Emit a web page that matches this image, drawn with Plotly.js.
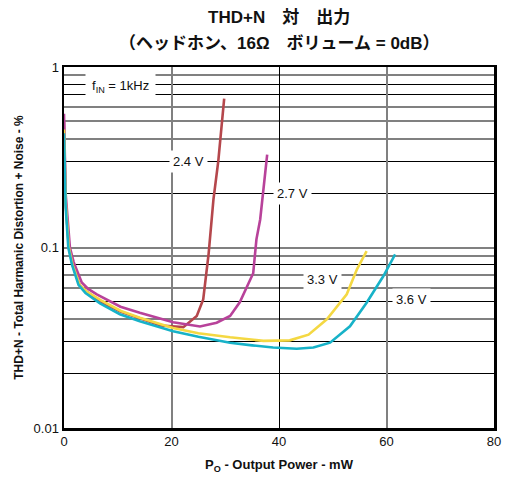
<!DOCTYPE html>
<html><head><meta charset="utf-8">
<script src="https://cdn.plot.ly/plotly-3.0.1.min.js"></script>
<style>html,body{margin:0;padding:0;background:#fff}#c{width:514px;height:477px}</style>
</head><body><div id="c"></div>
<script>
// ---- data ----
const seriesNames = ['2.4 V', '2.7 V', '3.3 V', '3.6 V'];
const x24 = [0, 0.3, 0.9, 1.6, 2.9, 4.2, 6.9, 10.6, 14.1, 18, 22.2, 24.7, 25.9, 26.9, 27.8, 28.7, 29.8];
const y24 = [0.5, 0.18, 0.10, 0.08, 0.062, 0.057, 0.05, 0.044, 0.0405, 0.037, 0.0362, 0.0417, 0.0515, 0.092, 0.184, 0.3, 0.669];
const x27 = [0, 0.3, 1.1, 1.8, 3.3, 4.5, 6.1, 7.9, 10.5, 14.1, 20.3, 25.3, 28.4, 30.9, 32.7, 35.2, 35.8, 36.5, 37.0, 37.8];
const y27 = [0.55, 0.2, 0.10, 0.083, 0.064, 0.059, 0.055, 0.0515, 0.047, 0.0435, 0.0385, 0.0365, 0.0383, 0.0418, 0.0497, 0.072, 0.111, 0.143, 0.2, 0.327];
const x33 = [0, 0.3, 0.9, 1.6, 2.9, 4.2, 6.9, 10.6, 14.1, 20.3, 25, 30.9, 37.1, 42, 45.5, 48.9, 52.6, 54.5, 56.3];
const y33 = [0.45, 0.18, 0.10, 0.08, 0.062, 0.057, 0.051, 0.0445, 0.0408, 0.0358, 0.0335, 0.0318, 0.0304, 0.0306, 0.0329, 0.04, 0.055, 0.0757, 0.0955];
const x36 = [0, 0.3, 0.8, 1.5, 2.7, 4, 6.7, 10.4, 14.1, 20.3, 25, 30.9, 35, 38.9, 43.3, 46.4, 49.5, 53.2, 56.3, 59.4, 61.6];
const y36 = [0.43, 0.17, 0.10, 0.08, 0.062, 0.056, 0.049, 0.0427, 0.039, 0.0344, 0.032, 0.0297, 0.0287, 0.0279, 0.0275, 0.0279, 0.0297, 0.0366, 0.0494, 0.0693, 0.0915];

// label positions (data coords)
const labelX = [23.2, 42.5, 48, 64.7];
const labelY = [0.3, 0.2, 0.0665, 0.0515];
const fLabel = 'f<sub>IN</sub> = 1kHz';
const fLabelX = 10.6, fLabelY = 0.78;

const titleLine1 = 'THD+N　対　出力';
const titleLine2 = '（ヘッドホン、16Ω　ボリューム = 0dB）';

// tick / grid values
const yGrayTicks = [0.01, 0.04, 0.06, 0.07, 0.09, 0.1, 0.4, 0.5, 0.6, 0.9, 1];
const yGrayText  = ['0.01', '', '', '', '', '0.1', '', '', '', '', '1'];
const yBlackTicks = [0.02, 0.03, 0.05, 0.08, 0.2, 0.3, 0.7, 0.8];
const xTicks = [0, 20, 40, 60, 80];
const xGrayGrid = [20, 60];
const xBlackGrid = [40];

const colors = ['#b5474c', '#b8429a', '#f4d843', '#17b2c8'];
const font = '"Liberation Sans", Arial, "Noto Sans CJK JP", sans-serif';

const xs = [x24, x27, x33, x36], ys = [y24, y27, y33, y36];
const traces = xs.map((x, i) => ({
  x: x, y: ys[i], type: 'scatter', mode: 'lines', name: seriesNames[i],
  line: {color: colors[i], width: 2.6}, showlegend: false, hoverinfo: 'skip'
}));
// empty traces so overlay grid axes are drawn
traces.push({x: [], y: [], xaxis: 'x2', yaxis: 'y', type: 'scatter', showlegend: false});
traces.push({x: [], y: [], xaxis: 'x3', yaxis: 'y', type: 'scatter', showlegend: false});
traces.push({x: [], y: [], xaxis: 'x', yaxis: 'y2', type: 'scatter', showlegend: false});

const annotations = seriesNames.map((n, i) => ({
  x: labelX[i], y: Math.log10(labelY[i]), xref: 'x', yref: 'y', text: n, showarrow: false,
  bgcolor: '#fff', borderpad: 3, font: {family: font, size: 13, color: '#111'}
}));
annotations.push({x: fLabelX, y: Math.log10(fLabelY), xref: 'x', yref: 'y', text: fLabel, showarrow: false,
  bgcolor: '#fff', borderpad: 6, font: {family: font, size: 13, color: '#111'}});
annotations.push({x: 0.5, xref: 'paper', yref: 'paper', y: (428 - 44) / 361, yanchor: 'middle',
  text: '<b>' + titleLine2 + '</b>', showarrow: false,
  font: {family: font, size: 17, color: '#111'}});

const grid = (vals, color, width, overlay) => ({
  range: [0, 80], overlaying: overlay, anchor: 'y', tickvals: vals, showticklabels: false,
  showgrid: true, gridcolor: color, gridwidth: width, zeroline: false, showline: false, ticks: ''
});

const layout = {
  width: 514, height: 477,
  margin: {l: 64, r: 20, t: 67, b: 49},
  paper_bgcolor: '#fff', plot_bgcolor: '#fff',
  title: {text: '<b>' + titleLine1 + '</b>', x: 0.543, xanchor: 'center', y: 1 - 17/477, yanchor: 'middle', yref: 'container',
    font: {family: font, size: 17, color: '#111'}},
  xaxis: {range: [0, 80], tickvals: xTicks, ticktext: xTicks.map(String),
    showgrid: false, zeroline: false,
    showline: true, mirror: true, linecolor: '#000', linewidth: 2.5, ticks: '',
    tickfont: {family: font, size: 13, color: '#111'},
    title: {text: '<b>P<sub>O</sub> - Output Power - mW</b>', font: {family: font, size: 13, color: '#111'}, standoff: 12}},
  xaxis2: grid(xGrayGrid, '#808080', 2, 'x'),
  xaxis3: grid(xBlackGrid, '#000', 1, 'x'),
  yaxis: {type: 'log', range: [-2, 0], tickvals: yGrayTicks, ticktext: yGrayText,
    showgrid: true, gridcolor: '#808080', gridwidth: 2, zeroline: false,
    showline: true, mirror: true, linecolor: '#000', linewidth: 2.5, ticks: '',
    tickfont: {family: font, size: 13, color: '#111'},
    title: {text: '<b>THD+N - Total Harmanic Distortion + Noise - %</b>', font: {family: font, size: 12, color: '#111'}, standoff: 8}},
  yaxis2: {type: 'log', range: [-2, 0], overlaying: 'y', anchor: 'x', tickvals: yBlackTicks, showticklabels: false,
    showgrid: true, gridcolor: '#000', gridwidth: 1, zeroline: false, showline: false, ticks: ''},
  annotations: annotations
};

Plotly.newPlot('c', traces, layout, {staticPlot: true, displayModeBar: false});
</script></body></html>
